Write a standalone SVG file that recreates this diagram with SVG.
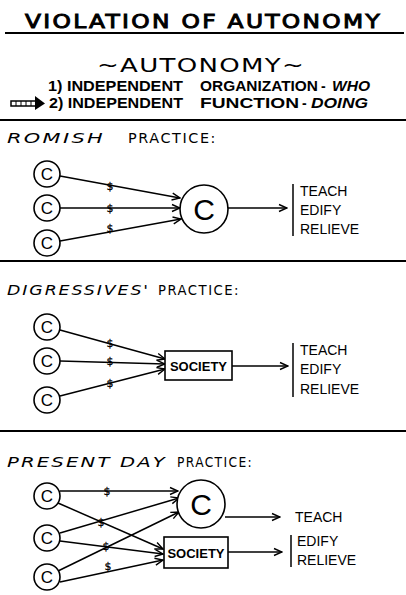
<svg xmlns="http://www.w3.org/2000/svg" width="406" height="595" viewBox="0 0 406 595">
<defs>
<marker id="ah" markerWidth="10" markerHeight="10" refX="9" refY="5" orient="auto" markerUnits="userSpaceOnUse">
<path d="M1,1.5 L9,5 L1,8.5" fill="none" stroke="#000" stroke-width="1.4"/>
</marker>
<style>
.t{font-family:"Liberation Sans",Arial,sans-serif;fill:#000}
.d{font-family:"DejaVu Sans","Liberation Sans",sans-serif;fill:#000}
.ln{stroke:#000;stroke-width:1.5;fill:none}
.con{stroke:#000;stroke-width:1.5;fill:none;marker-end:url(#ah)}
.sc{fill:#fff;stroke:#000;stroke-width:1.6}
.sep{stroke:#000;stroke-width:2}
.lbl{font-size:14px}
.hd{font-size:13.5px;letter-spacing:1.5px}
.dol{font-family:"DejaVu Sans",sans-serif;font-size:11px;text-anchor:middle;fill:#000;stroke:#000;stroke-width:0.3}
.cs{font-size:17px;text-anchor:middle}
.cb{font-size:30px;text-anchor:middle}
.soc{font-size:13px;font-weight:bold;text-anchor:middle}
</style>
</defs>
<rect width="406" height="595" fill="#fff"/>

<!-- header -->
<g id="title">
<text class="d" x="25" y="28" font-size="20" stroke="#000" stroke-width="1" letter-spacing="2" textLength="357" lengthAdjust="spacingAndGlyphs">VIOLATION OF AUTONOMY</text>
<line class="sep" x1="5" y1="33" x2="404" y2="33"/>
</g>
<g id="subtitle">
<text class="d" x="97" y="72" font-size="20" letter-spacing="1" textLength="208" lengthAdjust="spacingAndGlyphs">~AUTONOMY~</text>
<text class="t" x="48" y="91" font-size="14" font-weight="bold" textLength="135" lengthAdjust="spacingAndGlyphs">1) INDEPENDENT</text>
<text class="t" x="200" y="91" font-size="14" font-weight="bold" textLength="118" lengthAdjust="spacingAndGlyphs">ORGANIZATION</text>
<text class="t" x="321" y="91" font-size="14" font-weight="bold">-</text>
<text class="t" x="332" y="91" font-size="14" font-weight="bold" font-style="italic" textLength="38" lengthAdjust="spacingAndGlyphs">WHO</text>
<g id="pointer">
<rect x="11" y="101" width="25" height="5" fill="#fff" stroke="#000" stroke-width="1.5"/>
<path d="M16,101v5M21,101v5M26,101v5M31,101v5" stroke="#000" stroke-width="1"/>
<path d="M35,96 L45,103.5 L35,110 Z" fill="#000"/>
</g>
<text class="t" x="49" y="108" font-size="14" font-weight="bold" textLength="134" lengthAdjust="spacingAndGlyphs">2) INDEPENDENT</text>
<text class="t" x="200" y="108" font-size="14" font-weight="bold" textLength="99" lengthAdjust="spacingAndGlyphs">FUNCTION</text>
<text class="t" x="302" y="108" font-size="14" font-weight="bold">-</text>
<text class="t" x="311" y="108" font-size="14" font-weight="bold" font-style="italic" textLength="57" lengthAdjust="spacingAndGlyphs">DOING</text>
</g>
<line class="sep" x1="0" y1="120" x2="406" y2="120"/>
<line class="sep" x1="0" y1="261" x2="406" y2="261"/>
<line class="sep" x1="0" y1="431" x2="406" y2="431"/>

<!-- section headings -->
<g id="h-romish">
<text class="d hd" x="7" y="143" font-style="italic" textLength="98" lengthAdjust="spacingAndGlyphs">ROMISH</text>
<text class="d hd" x="128" y="143" textLength="89" lengthAdjust="spacingAndGlyphs">PRACTICE:</text>
</g>
<g id="h-digressives">
<text class="d hd" x="7" y="295" font-style="italic" textLength="143" lengthAdjust="spacingAndGlyphs">DIGRESSIVES'</text>
<text class="d hd" x="158" y="295" textLength="82" lengthAdjust="spacingAndGlyphs">PRACTICE:</text>
</g>
<g id="h-present">
<text class="d hd" x="7" y="467" font-style="italic" textLength="160" lengthAdjust="spacingAndGlyphs">PRESENT DAY</text>
<text class="d hd" x="177" y="467" textLength="76" lengthAdjust="spacingAndGlyphs">PRACTICE:</text>
</g>

<!-- connectors -->
<g id="connectors">
<line class="con" x1="60" y1="176" x2="180" y2="198"/>
<line class="con" x1="60" y1="208" x2="180" y2="208"/>
<line class="con" x1="60" y1="241" x2="181" y2="219"/>
<line class="con" x1="228" y1="208" x2="287" y2="208"/>

<line class="con" x1="60" y1="330" x2="165" y2="359"/>
<line class="con" x1="60" y1="361" x2="165" y2="364"/>
<line class="con" x1="60" y1="396" x2="165" y2="369"/>
<line class="con" x1="232" y1="366" x2="288" y2="366"/>

<line class="con" x1="60" y1="491" x2="178" y2="491"/>
<line class="con" x1="58" y1="503" x2="163" y2="549"/>
<line class="con" x1="60" y1="533" x2="179" y2="498"/>
<line class="con" x1="60" y1="541" x2="163" y2="554"/>
<line class="con" x1="58" y1="571" x2="179" y2="512"/>
<line class="con" x1="60" y1="582" x2="163" y2="560"/>
<line class="con" x1="225" y1="517" x2="280" y2="517"/>
<line class="con" x1="228" y1="552" x2="282" y2="552"/>
</g>

<!-- dollar marks -->
<g id="dollars">
<text class="dol" x="110" y="190">$</text>
<text class="dol" x="110" y="212">$</text>
<text class="dol" x="110" y="232">$</text>
<text class="dol" x="110" y="347">$</text>
<text class="dol" x="110" y="365">$</text>
<text class="dol" x="110" y="387">$</text>
<text class="dol" x="107" y="495">$</text>
<text class="dol" x="101" y="526">$</text>
<text class="dol" x="106" y="550">$</text>
<text class="dol" x="108" y="570">$</text>
</g>

<!-- nodes: Romish -->
<g id="r-c1"><circle class="sc" cx="47" cy="174" r="13"/><text class="t cs" x="47" y="180">C</text></g>
<g id="r-c2"><circle class="sc" cx="47" cy="208" r="13"/><text class="t cs" x="47" y="214">C</text></g>
<g id="r-c3"><circle class="sc" cx="47" cy="243" r="13"/><text class="t cs" x="47" y="249">C</text></g>
<g id="r-big"><circle class="sc" cx="204" cy="209" r="24"/><text class="t cb" x="204" y="220">C</text></g>
<g id="r-out">
<line class="ln" x1="293" y1="184" x2="293" y2="236"/>
<text class="t lbl" x="300" y="196">TEACH</text>
<text class="t lbl" x="300" y="215">EDIFY</text>
<text class="t lbl" x="300" y="234">RELIEVE</text>
</g>

<!-- nodes: Digressives -->
<g id="d-c1"><circle class="sc" cx="47" cy="327" r="13"/><text class="t cs" x="47" y="333">C</text></g>
<g id="d-c2"><circle class="sc" cx="47" cy="361" r="13"/><text class="t cs" x="47" y="367">C</text></g>
<g id="d-c3"><circle class="sc" cx="47" cy="400" r="13"/><text class="t cs" x="47" y="406">C</text></g>
<g id="d-society"><rect class="sc" x="165" y="351" width="67" height="29"/><text class="t soc" x="198.5" y="371">SOCIETY</text></g>
<g id="d-out">
<line class="ln" x1="293" y1="343" x2="293" y2="397"/>
<text class="t lbl" x="300" y="355">TEACH</text>
<text class="t lbl" x="300" y="374">EDIFY</text>
<text class="t lbl" x="300" y="394">RELIEVE</text>
</g>

<!-- nodes: Present day -->
<g id="p-c1"><circle class="sc" cx="47" cy="496" r="13"/><text class="t cs" x="47" y="502">C</text></g>
<g id="p-c2"><circle class="sc" cx="47" cy="538" r="13"/><text class="t cs" x="47" y="544">C</text></g>
<g id="p-c3"><circle class="sc" cx="47" cy="577" r="13"/><text class="t cs" x="47" y="583">C</text></g>
<g id="p-big"><circle class="sc" cx="201" cy="504" r="24"/><text class="t cb" x="201" y="515">C</text></g>
<g id="p-society"><rect class="sc" x="164" y="537" width="64" height="31"/><text class="t soc" x="196" y="558">SOCIETY</text></g>
<g id="p-out">
<text class="t lbl" x="295" y="522">TEACH</text>
<line class="ln" x1="291" y1="535" x2="291" y2="567"/>
<text class="t lbl" x="297" y="546">EDIFY</text>
<text class="t lbl" x="297" y="565">RELIEVE</text>
</g>
</svg>
